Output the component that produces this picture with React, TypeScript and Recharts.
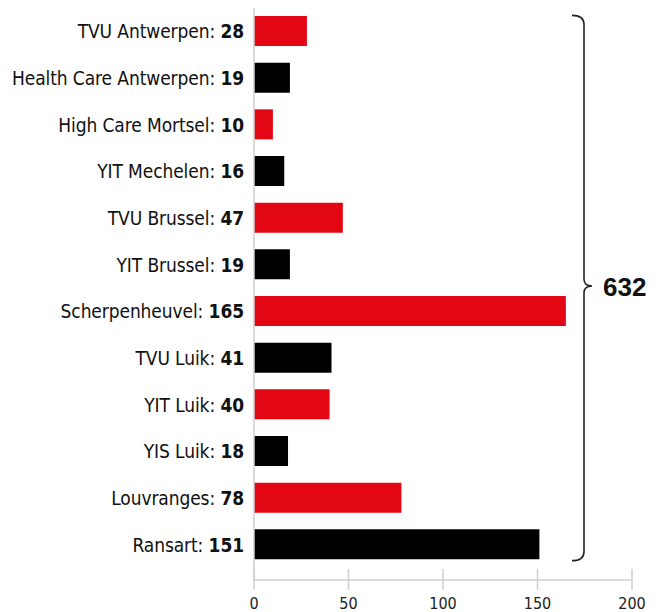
import React from "react";
import { BarChart, Bar, XAxis, YAxis, Cell } from "recharts";

const sites = [
  "TVU Antwerpen",
  "Health Care Antwerpen",
  "High Care Mortsel",
  "YIT Mechelen",
  "TVU Brussel",
  "YIT Brussel",
  "Scherpenheuvel",
  "TVU Luik",
  "YIT Luik",
  "YIS Luik",
  "Louvranges",
  "Ransart",
];
const counts = [28, 19, 10, 16, 47, 19, 165, 41, 40, 18, 78, 151];
const xTicks = [0, 50, 100, 150, 200];

const RED = "#e30613";
const BLACK = "#000000";
const GRID = "#cfcfcf";
const LABEL_FONT = "'DejaVu Sans Condensed', 'DejaVu Sans', sans-serif";

const W = 660;
const H = 612;
const TOP = 8;
const LEFT = 254;
const RIGHT = 28;
const X_AXIS_H = 32;
const PAD_BOTTOM = 12;

const data = sites.map((name, i) => ({ name, value: counts[i] }));
const total = counts.reduce((a, b) => a + b, 0);

const SiteTick = (props: any) => {
  const { x, y, payload } = props;
  const i = payload.index ?? sites.indexOf(payload.value);
  return (
    <text
      x={x}
      y={y}
      textAnchor="end"
      dominantBaseline="central"
      fontFamily={LABEL_FONT}
      fontSize={19}
      letterSpacing={-0.1}
      fill="#111"
    >
      <tspan>{sites[i]}: </tspan>
      <tspan fontWeight="bold">{counts[i]}</tspan>
    </text>
  );
};

const ValueTick = (props: any) => {
  const { x, y, payload } = props;
  return (
    <g>
      <line x1={x} x2={x} y1={y - 11} y2={y + 10} stroke={GRID} strokeWidth={1.5} />
      <text
        x={x}
        y={y + 29}
        textAnchor="middle"
        fontFamily={LABEL_FONT}
        fontSize={16}
        fill="#222"
      >
        {payload.value}
      </text>
    </g>
  );
};

// brace spanning all bars, pointing at the total
const Brace = () => {
  const band = (H - TOP - X_AXIS_H - PAD_BOTTOM) / sites.length;
  const y0 = TOP + band / 2 - 16;
  const y1 = TOP + band * (sites.length - 0.5) + 16;
  const xl = 572;
  const xv = 584;
  const tipY = 286;
  const r = 7;
  const d = [
    `M ${xl} ${y0}`,
    `Q ${xv} ${y0} ${xv} ${y0 + r + 2}`,
    `L ${xv} ${tipY - 7}`,
    `Q ${xv} ${tipY} ${xv + 8} ${tipY}`,
    `Q ${xv} ${tipY} ${xv} ${tipY + 7}`,
    `L ${xv} ${y1 - r - 2}`,
    `Q ${xv} ${y1} ${xl} ${y1}`,
  ].join(" ");
  return (
    <svg
      width={W}
      height={H}
      style={{ position: "absolute", left: 0, top: 0, pointerEvents: "none" }}
    >
      <path d={d} fill="none" stroke="#222" strokeWidth={1.6} />
      <text
        x={603}
        y={tipY + 10}
        fontFamily="'Liberation Sans', Arial, sans-serif"
        fontWeight="bold"
        fontSize={26}
        fill="#111"
      >
        {total}
      </text>
    </svg>
  );
};

export default function App() {
  return (
    <div style={{ position: "absolute", left: 0, top: 0, width: W, height: H, background: "#fff" }}>
      <BarChart
        width={W}
        height={H}
        data={data}
        layout="vertical"
        margin={{ top: TOP, right: RIGHT, bottom: 0, left: 0 }}
        barSize={30}
      >
        <XAxis
          type="number"
          domain={[0, 200]}
          ticks={xTicks}
          height={X_AXIS_H}
          axisLine={{ stroke: GRID, strokeWidth: 1.5 }}
          tickLine={false}
          tickSize={0}
          tickMargin={0}
          tick={<ValueTick />}
          interval={0}
        />
        <YAxis
          type="category"
          dataKey="name"
          width={LEFT}
          padding={{ top: 0, bottom: PAD_BOTTOM }}
          axisLine={{ stroke: GRID, strokeWidth: 1.5 }}
          tickLine={false}
          tickSize={0}
          tickMargin={10}
          tick={<SiteTick />}
          interval={0}
        />
        <Bar dataKey="value" isAnimationActive={false}>
          {data.map((d, i) => (
            <Cell key={d.name} fill={i % 2 === 0 ? RED : BLACK} />
          ))}
        </Bar>
      </BarChart>
      <Brace />
    </div>
  );
}
